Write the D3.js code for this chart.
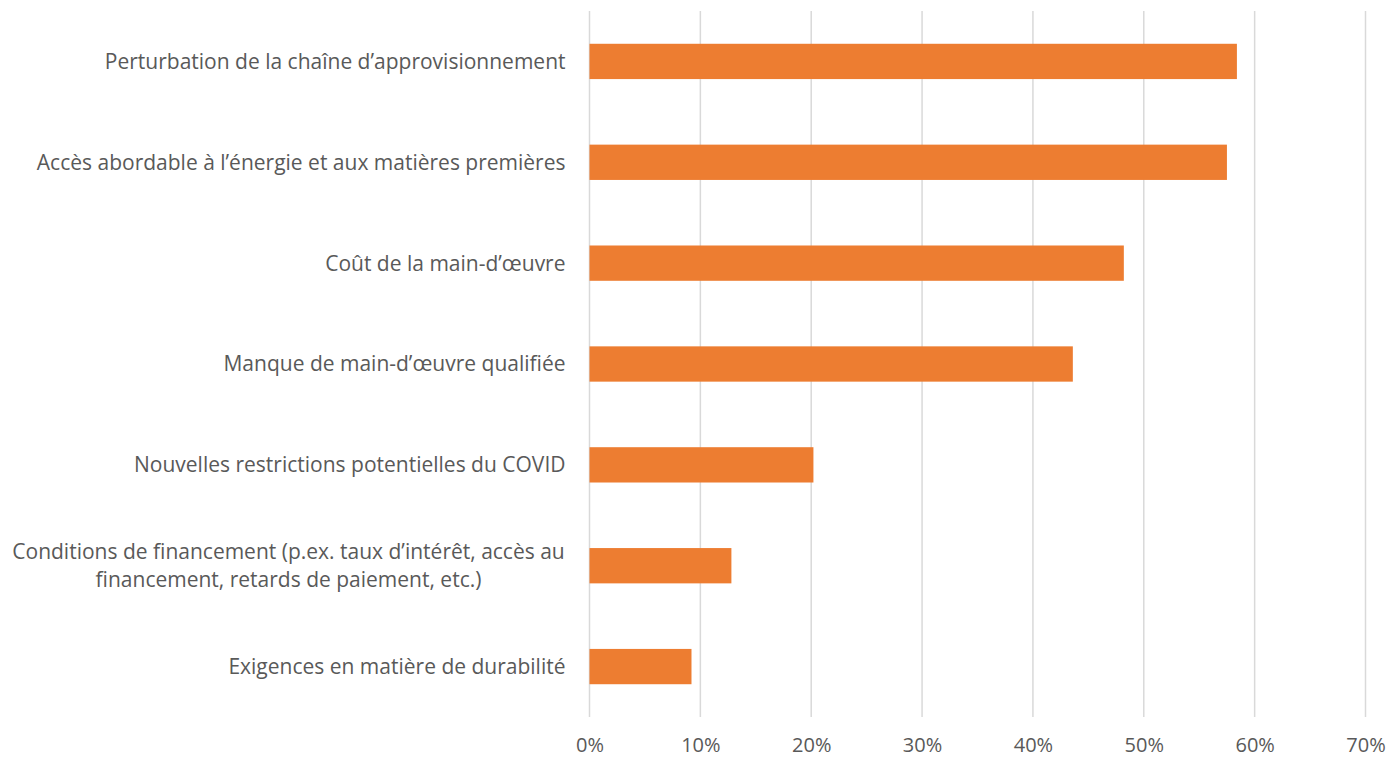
<!DOCTYPE html>
<html lang="fr">
<head>
    <meta charset="UTF-8">
    <title>Préoccupations des entreprises</title>
    <style>
        body { margin: 0; background: #fff; }
        svg text { font-family: "Open Sans", Lato, sans-serif; fill: #595959; }
    </style>
</head>
<body>
    <svg id="chart" width="1389" height="759"></svg>
    <script src="https://d3js.org/d3.v7.min.js"></script>
    <script>
        // categories, top to bottom (wrapped label = several lines)
        const categories = [
            ["Perturbation de la chaîne d’approvisionnement"],
            ["Accès abordable à l’énergie et aux matières premières"],
            ["Coût de la main-d’œuvre"],
            ["Manque de main-d’œuvre qualifiée"],
            ["Nouvelles restrictions potentielles du COVID"],
            ["Conditions de financement (p.ex. taux d’intérêt, accès au", "financement, retards de paiement, etc.)"],
            ["Exigences en matière de durabilité"]
        ];
        const values = [58.4, 57.5, 48.2, 43.6, 20.2, 12.8, 9.2];
        const ticks = [0, 10, 20, 30, 40, 50, 60, 70];

        const data = categories.map((c, i) => ({ key: c.join(" "), lines: c, value: values[i] }));

        const svg = d3.select("#chart");
        const margin = { top: 11, left: 589.5, right: 23.5, bottom: 42 };
        const width = 1389 - margin.left - margin.right;
        const height = 759 - margin.top - margin.bottom;

        const x = d3.scaleLinear().domain([0, 70]).range([0, width]);
        const y = d3.scaleBand()
            .domain(data.map(d => d.key))
            .range([0, height])
            .paddingInner(0.65)
            .paddingOuter(0.325);

        const g = svg.append("g")
            .attr("transform", `translate(${margin.left},${margin.top})`);

        // vertical gridlines
        g.selectAll(".grid")
            .data(ticks)
            .enter().append("line")
            .attr("x1", d => x(d))
            .attr("x2", d => x(d))
            .attr("y1", 0)
            .attr("y2", height)
            .attr("stroke", "#d9d9d9")
            .attr("stroke-width", 1.5);

        // bars
        g.selectAll(".bar")
            .data(data)
            .enter().append("rect")
            .attr("x", x(0))
            .attr("y", d => y(d.key))
            .attr("width", d => x(d.value) - x(0))
            .attr("height", y.bandwidth())
            .attr("fill", "#ed7d31");

        // x axis tick labels
        const xAxis = g.append("g")
            .attr("transform", `translate(0,${height})`)
            .call(d3.axisBottom(x).tickValues(ticks).tickFormat(d => d + "%").tickSize(0).tickPadding(21));
        xAxis.select(".domain").remove();
        xAxis.selectAll("text")
            .style("font-size", "20px")
            .attr("fill", "#595959");

        // category labels
        const labels = g.selectAll(".label")
            .data(data)
            .enter().append("text")
            .attr("text-anchor", "end")
            .style("font-size", "21px")
            .attr("transform", d => `translate(-24,${y(d.key) + y.bandwidth() / 2})`);

        labels.each(function (d) {
            const t = d3.select(this);
            const n = d.lines.length;
            d.lines.forEach((line, i) => {
                t.append("tspan")
                    .attr("x", 0)
                    .attr("y", (i - (n - 1) / 2) * 28)
                    .attr("dy", "0.35em")
                    .attr("text-anchor", n > 1 ? "middle" : "end")
                    .attr("dx", n > 1 ? -277 : 0)
                    .text(line);
            });
        });
    </script>
</body>
</html>
